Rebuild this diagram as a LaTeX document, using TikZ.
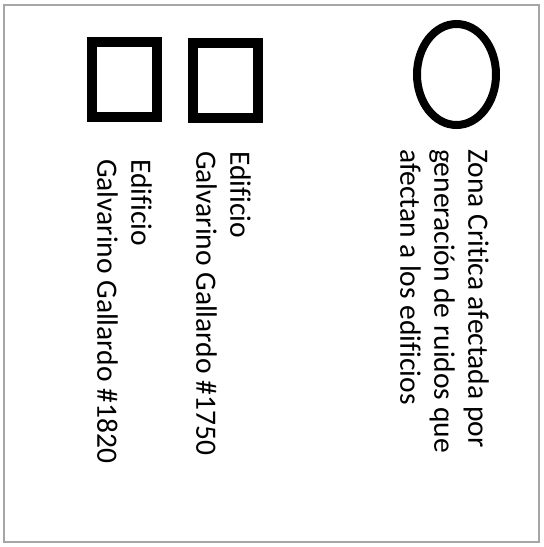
\documentclass[tikz,border=0pt]{standalone}
\usepackage{fontspec}
\setmainfont[Ligatures=NoCommon]{Carlito}
\usepackage{tikz}
\usetikzlibrary{shapes,positioning}

\begin{document}
\begin{tikzpicture}[
    x=1pt, y=-1pt,
    edificio/.style={rectangle, draw, line width=10pt, inner sep=0pt, minimum width=65pt, minimum height=75pt},
    zona/.style={ellipse, draw, line width=8pt, inner sep=0pt, minimum width=79pt, minimum height=101pt},
    label/.style={rotate=-90, anchor=north west, inner sep=0pt, align=left,
        font=\fontsize{29.5pt}{34pt}\selectfont}
]
\useasboundingbox (0,0) rectangle (544,547);
\draw[gray!70, line width=1.2pt] (4,5) rectangle (539,542);

\node[edificio] (ed1820) at (124.5,79.5) {};
\node[edificio] (ed1750) at (225,80) {};
\node[zona] (critica) at (456.5,74.5) {};

\node[label] (txt1820) at (152,159) {Edificio\\Galvarino Gallardo \#1820};
\node[label] (txt1750) at (251,151) {Edificio\\Galvarino Gallardo \#1750};
\node[label] (txtzona) at (489,149) {Zona Critica afectada por\\generación de ruidos que\\afectan a los edificios};
\end{tikzpicture}
\end{document}
